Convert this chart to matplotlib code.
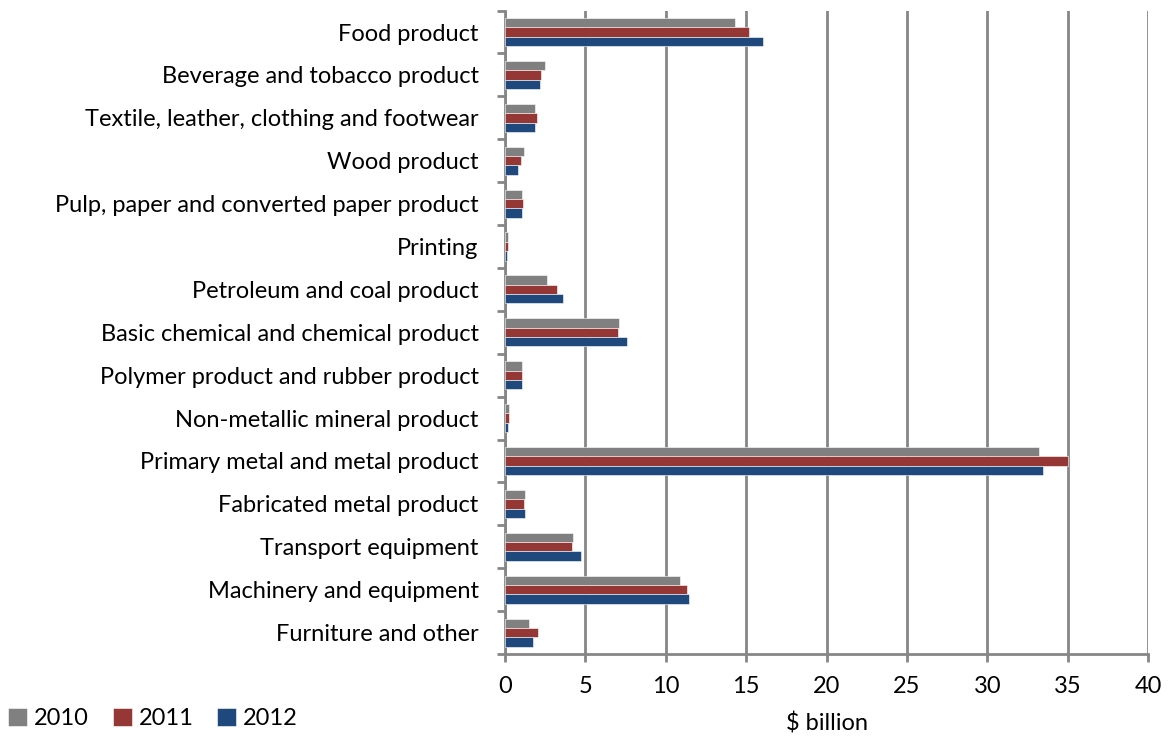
import matplotlib.pyplot as plt
import numpy as np

plt.rcParams['font.family'] = ['Lato', 'DejaVu Sans']

categories = ["Food product", "Beverage and tobacco product",
              "Textile, leather, clothing and footwear", "Wood product",
              "Pulp, paper and converted paper product", "Printing",
              "Petroleum and coal product", "Basic chemical and chemical product",
              "Polymer product and rubber product", "Non-metallic mineral product",
              "Primary metal and metal product", "Fabricated metal product",
              "Transport equipment", "Machinery and equipment", "Furniture and other"]

v2010 = [14.3, 2.45, 1.87, 1.18, 1.06, 0.19, 2.63, 7.11, 1.06, 0.23, 33.2, 1.22, 4.21, 10.89, 1.51]
v2011 = [15.2, 2.22, 2.01, 0.98, 1.10, 0.17, 3.21, 7.03, 1.02, 0.21, 35.03, 1.18, 4.17, 11.31, 2.07]
v2012 = [16.03, 2.18, 1.87, 0.83, 1.04, 0.10, 3.58, 7.57, 1.08, 0.17, 33.45, 1.22, 4.71, 11.47, 1.76]

years = ["2010", "2011", "2012"]
colors = ["#808080", "#953735", "#1F497D"]
grid_c = "#868686"

fig = plt.figure(figsize=(11.72, 7.36), dpi=100)
ax = fig.add_axes([0.431, 0.1114, 0.5485, 0.8742])

y = np.arange(len(categories))
h = 0.218
for i, (vals, c, lab) in enumerate(zip([v2010, v2011, v2012], colors, years)):
    ax.barh(y + (i - 1) * h, vals, height=h, color=c, label=lab,
            edgecolor="white", linewidth=0.4, zorder=3)

ax.set_xlim(0, 40)
ax.set_ylim(len(categories) - 0.5, -0.5)
ax.set_xticks(np.arange(0, 41, 5))
ax.set_yticks(y)
ax.set_yticklabels(categories, fontsize=17)
ax.set_yticks(np.arange(-0.5, len(categories), 1), minor=True)
ax.tick_params(axis='y', which='major', length=0, pad=19)
ax.tick_params(axis='y', which='minor', length=6, width=2, color=grid_c)
ax.tick_params(axis='x', length=6, width=2, color=grid_c, labelsize=17, pad=10)

ax.grid(axis='x', color=grid_c, linewidth=2, zorder=0)
for s in ['top', 'right']:
    ax.spines[s].set_visible(False)
for s in ['left', 'bottom']:
    ax.spines[s].set_color(grid_c)
    ax.spines[s].set_linewidth(2)

ax.set_xlabel("$ billion", fontsize=17, labelpad=11)

fig.legend(loc='lower left', bbox_to_anchor=(-0.011, -0.02), ncol=3, frameon=False,
           fontsize=17, handlelength=0.8, handleheight=0.8, handletextpad=0.3,
           columnspacing=1.0)

fig.savefig("out.png", dpi=100)
